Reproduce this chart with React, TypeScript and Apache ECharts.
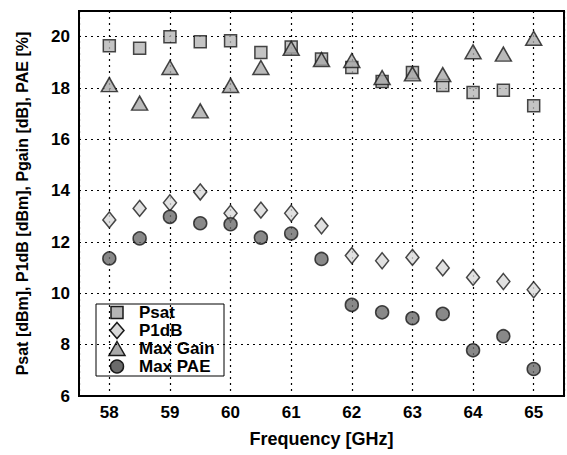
import React, { useEffect, useRef } from "react";
import * as echarts from "echarts";

const freq = [58, 58.5, 59, 59.5, 60, 60.5, 61, 61.5, 62, 62.5, 63, 63.5, 64, 64.5, 65];
const psat = [19.65, 19.55, 20.0, 19.8, 19.84, 19.38, 19.6, 19.13, 18.8, 18.25, 18.6, 18.1, 17.82, 17.91, 17.31];
const p1db = [12.86, 13.31, 13.53, 13.95, 13.12, 13.24, 13.12, 12.63, 11.47, 11.27, 11.4, 10.99, 10.62, 10.46, 10.14];
const maxGain = [18.13, 17.41, 18.8, 17.11, 18.1, 18.8, 19.55, 19.11, 19.07, 18.41, 18.55, 18.52, 19.41, 19.32, 19.94];
const maxPae = [11.36, 12.14, 12.98, 12.73, 12.69, 12.17, 12.33, 11.34, 9.55, 9.26, 9.03, 9.2, 7.78, 8.33, 7.05];

const seriesNames = ["Psat", "P1dB", "Max Gain", "Max PAE"];
const xTicks = [58, 59, 60, 61, 62, 63, 64, 65];
const yTicks = [6, 8, 10, 12, 14, 16, 18, 20];

const FONT = "'Liberation Sans', Arial, sans-serif";
const STROKE = "#1a1a1a";
const COLORS = ["#b5b5b5", "#d9d9d9", "#a9a9a9", "#6b6b6b"];

const pair = (ys: number[]) => freq.map((f, i) => [f, ys[i]]);

export default function App() {
  const ref = useRef<HTMLDivElement>(null);
  useEffect(() => {
    if (!ref.current) return;
    const chart = echarts.init(ref.current, undefined, { renderer: "svg" });
    const border = { borderColor: STROKE, borderWidth: 1.5 };

    // legend drawn as graphic
    const lx = 96, ly = 304, lw = 128, lh = 72;
    const iconX = 117;
    const rows = [312.5, 330.5, 348.5, 366.5];
    const sStyle = (i: number) => ({ fill: COLORS[i], stroke: STROKE, lineWidth: 1.5 });
    const legendEls: any[] = [
      { type: "rect", shape: { x: lx, y: ly, width: lw, height: lh }, style: { fill: "#fff", stroke: "#000", lineWidth: 1 } },
      { type: "rect", shape: { x: iconX - 6, y: rows[0] - 6, width: 12, height: 12 }, style: sStyle(0) },
      {
        type: "polygon",
        shape: { points: [[iconX, rows[1] - 8], [iconX + 7, rows[1]], [iconX, rows[1] + 8], [iconX - 7, rows[1]]] },
        style: sStyle(1),
      },
      {
        type: "polygon",
        shape: { points: [[iconX, rows[2] - 7], [iconX + 8, rows[2] + 7], [iconX - 8, rows[2] + 7]] },
        style: sStyle(2),
      },
      { type: "circle", shape: { cx: iconX, cy: rows[3], r: 6.5 }, style: sStyle(3) },
    ];
    seriesNames.forEach((n, i) => {
      legendEls.push({
        type: "text",
        x: 139,
        y: rows[i],
        style: { text: n, fill: "#000", font: `bold 17px ${FONT}`, verticalAlign: "middle" },
      });
    });

    chart.setOption({
      animation: false,
      backgroundColor: "#ffffff",
      grid: { left: 79, top: 11, right: 3, bottom: 59, show: true, borderColor: "#000", borderWidth: 2, backgroundColor: "transparent" },
      graphic: [{ type: "group", z: 100, children: legendEls }],
      xAxis: {
        type: "value",
        min: 57.5,
        max: 65.5,
        splitNumber: 8,
        name: "Frequency [GHz]",
        nameLocation: "middle",
        nameGap: 34,
        nameTextStyle: { fontFamily: FONT, fontWeight: "bold", fontSize: 18, color: "#000" },
        axisLine: { show: true, lineStyle: { color: "#000", width: 2 } },
        axisTick: { show: false },
        axisLabel: {
          fontFamily: FONT,
          fontWeight: "bold",
          fontSize: 17,
          color: "#000",
          margin: 8,
          formatter: (v: number) => (xTicks.includes(v) ? String(v) : ""),
        },
        splitLine: { show: true, lineStyle: { color: "#000", type: [2, 4], width: 1.2 } },
      },
      yAxis: {
        type: "value",
        min: 6,
        max: 21,
        interval: 2,
        name: "Psat [dBm], P1dB [dBm], Pgain [dB], PAE [%]",
        nameLocation: "middle",
        nameGap: 49,
        nameTextStyle: { fontFamily: FONT, fontWeight: "bold", fontSize: 16, color: "#000" },
        axisLine: { show: true, lineStyle: { color: "#000", width: 2 } },
        axisTick: { show: false },
        axisLabel: {
          fontFamily: FONT,
          fontWeight: "bold",
          fontSize: 17,
          color: "#000",
          margin: 9,
          formatter: (v: number) => (yTicks.includes(v) ? String(v) : ""),
        },
        splitLine: { show: true, lineStyle: { color: "#000", type: [2, 4], width: 1.2 } },
      },
      series: [
        {
          name: seriesNames[0],
          type: "scatter",
          symbol: "rect",
          symbolSize: 12,
          data: pair(psat),
          itemStyle: { color: COLORS[0], ...border },
          z: 3,
        },
        {
          name: seriesNames[1],
          type: "scatter",
          symbol: "diamond",
          symbolSize: [13, 16],
          data: pair(p1db),
          itemStyle: { color: COLORS[1], ...border },
          z: 3,
        },
        {
          name: seriesNames[2],
          type: "scatter",
          symbol: "triangle",
          symbolSize: [16, 14],
          data: pair(maxGain),
          itemStyle: { color: COLORS[2], ...border },
          z: 4,
        },
        {
          name: seriesNames[3],
          type: "scatter",
          symbol: "circle",
          symbolSize: 13,
          data: pair(maxPae),
          itemStyle: { color: COLORS[3], ...border },
          z: 3,
        },
      ],
    });
    return () => chart.dispose();
  }, []);
  return <div ref={ref} style={{ width: 567, height: 455, position: "absolute", left: 0, top: 0 }} />;
}
